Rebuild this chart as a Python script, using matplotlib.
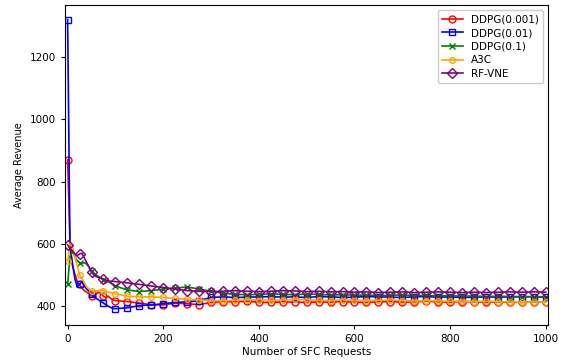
import matplotlib
matplotlib.use("Agg")
import matplotlib.pyplot as plt
import numpy as np

requests = [0, 5, 10, 15, 20, 25, 30, 35, 40, 45, 50, 55, 60, 65, 70, 75, 80, 85, 90, 95, 100,
            125, 150, 175, 200, 225, 250, 275, 300, 325, 350, 375, 400, 425, 450, 475, 500,
            525, 550, 575, 600, 625, 650, 675, 700, 725, 750, 775, 800, 825, 850, 875, 900,
            925, 950, 975, 1000]

ddpg_0001 = [870, 600, 530, 505, 480, 470, 458, 450, 445, 440, 432, 428, 440, 445, 440, 432, 428, 432, 425, 420, 418,
             415, 410, 405, 404, 410, 408, 405, 412, 415, 414, 416, 413, 412, 414, 413, 412,
             414, 413, 415, 413, 412, 414, 415, 413, 414, 416, 414, 413, 415, 414, 413, 414,
             413, 412, 414, 413]

ddpg_001 = [1320, 585, 540, 490, 462, 470, 478, 465, 455, 448, 440, 432, 425, 420, 415, 410, 405, 400, 396, 393, 392,
            395, 402, 404, 408, 412, 414, 418, 428, 430, 428, 429, 430, 431, 429, 430, 428,
            431, 430, 428, 429, 431, 430, 429, 428, 430, 431, 429, 430, 428, 429, 430, 429,
            430, 431, 430, 429]

ddpg_01 = [470, 560, 575, 560, 545, 540, 538, 540, 535, 525, 512, 505, 500, 495, 490, 485, 480, 478, 475, 470, 465,
           452, 447, 450, 455, 458, 462, 455, 448, 442, 438, 437, 438, 440, 438, 437, 439,
           438, 436, 437, 435, 436, 434, 435, 436, 434, 435, 433, 434, 432, 433, 431, 432,
           431, 430, 431, 430]

a3c = [545, 605, 590, 560, 530, 500, 488, 475, 462, 455, 450, 447, 448, 450, 452, 450, 447, 445, 444, 442, 440,
       432, 430, 430, 428, 425, 422, 420, 418, 418, 419, 420, 421, 419, 420, 422, 421,
       419, 418, 420, 419, 418, 419, 420, 418, 417, 418, 417, 416, 417, 415, 416, 415,
       414, 413, 414, 413]

rf_vne = [597, 585, 578, 568, 562, 568, 570, 555, 540, 525, 510, 500, 495, 492, 490, 487, 484, 482, 480, 480, 479,
          475, 470, 465, 460, 455, 450, 448, 447, 448, 450, 448, 447, 448, 450, 449, 447,
          448, 446, 447, 445, 446, 444, 445, 446, 444, 445, 446, 445, 444, 445, 444, 445,
          446, 445, 446, 445]

labels = ["DDPG(0.001)", "DDPG(0.01)", "DDPG(0.1)", "A3C", "RF-VNE"]
colors = ["red", "blue", "green", "orange", "purple"]
markers = ["o", "s", "x", "o", "D"]
msizes = [5, 5, 5, 4, 5]

series = [ddpg_0001, ddpg_001, ddpg_01, a3c, rf_vne]

fig = plt.figure(figsize=(5.68, 3.61), dpi=100)
ax = fig.add_axes([0.114, 0.10, 0.851, 0.886])

x = np.array(requests, dtype=float)
mark_idx = [i for i, v in enumerate(requests) if v % 25 == 0]

for ys, lab, c, m, ms in zip(series, labels, colors, markers, msizes):
    ax.plot(x, ys, color=c, marker=m, markersize=ms, markerfacecolor="none",
            markeredgecolor=c, markevery=mark_idx, linewidth=1.2, label=lab)

ax.set_xlim(-6, 1005)
ax.set_ylim(340, 1367)
ax.set_xticks([0, 200, 400, 600, 800, 1000])
ax.set_yticks([400, 600, 800, 1000, 1200])
ax.tick_params(labelsize=7.5, length=3)
ax.set_xlabel("Number of SFC Requests", fontsize=7.5, labelpad=2)
ax.set_ylabel("Average Revenue", fontsize=7, labelpad=4)
ax.legend(loc="upper right", fontsize=7.5, handlelength=2.0, borderpad=0.4,
          labelspacing=0.35, framealpha=1.0)

fig.savefig("out.png", dpi=100)
